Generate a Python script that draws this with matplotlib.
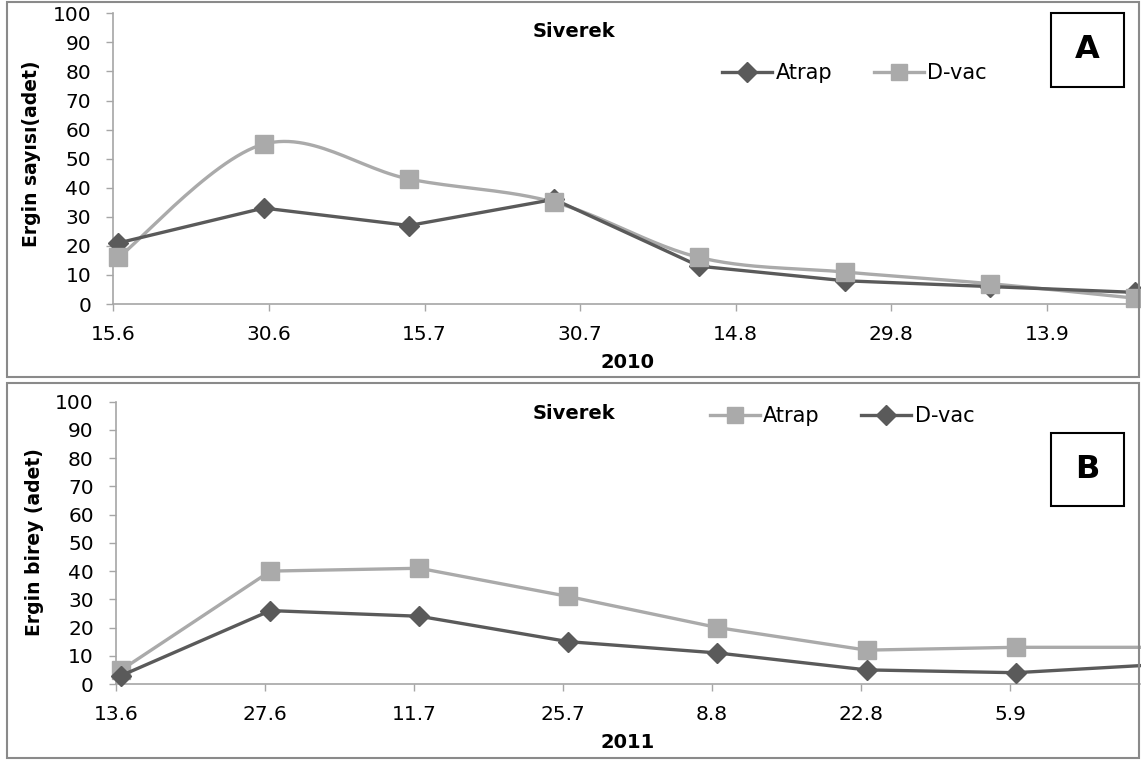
import numpy as np
import matplotlib.pyplot as plt
from matplotlib.patches import Rectangle

plt.rcParams['font.family'] = 'DejaVu Sans'

# panel A - 2010 (days counted from first tick date)
a_tick_labels = ['15.6', '30.6', '15.7', '30.7', '14.8', '29.8', '13.9']
a_tick_days = [0, 15, 30, 45, 60, 75, 90]
a_days = [0.5, 14.5, 28.5, 42.5, 56.5, 70.5, 84.5, 98.5]
a_atrap = [21, 33, 27, 36, 13, 8, 6, 4]
a_dvac = [16, 55, 43, 35, 16, 11, 7, 2]

# panel B - 2011
b_tick_labels = ['13.6', '27.6', '11.7', '25.7', '8.8', '22.8', '5.9']
b_tick_days = [0, 14, 28, 42, 56, 70, 84]
b_days = [0.5, 14.5, 28.5, 42.5, 56.5, 70.5, 84.5, 98.5]
b_atrap = [5, 40, 41, 31, 20, 12, 13, 13]
b_dvac = [3, 26, 24, 15, 11, 5, 4, 7]

DARK = '#5a5a5a'
LIGHT = '#aaaaaa'
AXC = '#a6a6a6'


def smooth(x, y, n=30):
    # excel-like smoothed line (catmull-rom as cubic bezier)
    x = np.asarray(x, float)
    y = np.asarray(y, float)
    px = np.concatenate([[x[0]], x, [x[-1]]])
    py = np.concatenate([[y[0]], y, [y[-1]]])
    t = np.linspace(0, 1, n)
    xs, ys = [], []
    for i in range(len(x) - 1):
        p0 = np.array([px[i], py[i]])
        p1 = np.array([px[i + 1], py[i + 1]])
        p2 = np.array([px[i + 2], py[i + 2]])
        p3 = np.array([px[i + 3], py[i + 3]])
        c1 = p1 + (p2 - p0) / 6
        c2 = p2 - (p3 - p1) / 6
        for tt in t:
            b = ((1 - tt) ** 3) * p1 + 3 * ((1 - tt) ** 2) * tt * c1 \
                + 3 * (1 - tt) * tt ** 2 * c2 + tt ** 3 * p2
            xs.append(b[0])
            ys.append(b[1])
    return xs, ys


def style_axes(ax, ticks, labels, xmax):
    ax.set_xlim(0, xmax)
    ax.set_ylim(0, 100)
    ax.set_yticks(range(0, 101, 10))
    ax.set_xticks(ticks)
    ax.set_xticklabels(labels)
    for s in ['top', 'right']:
        ax.spines[s].set_visible(False)
    for s in ['left', 'bottom']:
        ax.spines[s].set_color(AXC)
        ax.spines[s].set_linewidth(1.2)
    ax.tick_params(axis='both', colors=AXC, labelcolor='black', labelsize=14.5,
                   length=5, width=1.0, direction='out')
    ax.tick_params(axis='x', pad=10)
    ax.tick_params(axis='y', pad=11)


fig = plt.figure(figsize=(11.41, 7.60), dpi=100)

# ---------- panel A ----------
axA = fig.add_axes([0.0993, 0.6, 0.8998, 0.3825])
style_axes(axA, a_tick_days, a_tick_labels, 98.97)
sx, sy = smooth(a_days, a_dvac)
axA.plot(sx, sy, color=LIGHT, lw=2.4, clip_on=False, zorder=3)
axA.plot(a_days, a_dvac, ls='none', marker='s', ms=13, color=LIGHT, clip_on=False, zorder=4)
axA.plot(a_days, a_atrap, color=DARK, lw=2.4, marker='D', ms=10, clip_on=False, zorder=3)
hA1, = axA.plot([], [], color=DARK, lw=2.4, marker='D', ms=10)
hA2, = axA.plot([], [], color=LIGHT, lw=2.4, marker='s', ms=12)
axA.legend([hA1, hA2], ['Atrap', 'D-vac'], ncol=2, frameon=False, fontsize=15,
           loc='center', bbox_to_anchor=(0.722, 0.795), handlelength=2.4,
           handletextpad=0.15, columnspacing=2.0)
axA.text(0.449, 0.936, 'Siverek', transform=axA.transAxes, ha='center', va='center',
         fontsize=14, fontweight='bold')
fig.text(32 / 1141, 1 - 154 / 760, 'Ergin sayısı(adet)', rotation=90, ha='center',
         va='center', fontsize=13.5, fontweight='bold')
fig.text(628 / 1141, 1 - 362 / 760, '2010', ha='center', va='center',
         fontsize=14, fontweight='bold')

# ---------- panel B ----------
axB = fig.add_axes([0.1017, 0.1, 0.8975, 0.3714])
style_axes(axB, b_tick_days, b_tick_labels, 96.2)
axB.plot(b_days, b_atrap, color=LIGHT, lw=2.4, marker='s', ms=13, clip_on=False, zorder=3)
axB.plot(b_days, b_dvac, color=DARK, lw=2.4, marker='D', ms=10, clip_on=False, zorder=4)
hB1, = axB.plot([], [], color=LIGHT, lw=2.4, marker='s', ms=12)
hB2, = axB.plot([], [], color=DARK, lw=2.4, marker='D', ms=10)
axB.legend([hB1, hB2], ['Atrap', 'D-vac'], ncol=2, frameon=False, fontsize=15,
           loc='center', bbox_to_anchor=(0.709, 0.949), handlelength=2.4,
           handletextpad=0.15, columnspacing=2.0)
axB.text(0.447, 0.96, 'Siverek', transform=axB.transAxes, ha='center', va='center',
         fontsize=14, fontweight='bold')
fig.text(35 / 1141, 1 - 542 / 760, 'Ergin birey (adet)', rotation=90, ha='center',
         va='center', fontsize=13.5, fontweight='bold')
fig.text(628 / 1141, 1 - 743 / 760, '2011', ha='center', va='center',
         fontsize=14, fontweight='bold')

# panel frames
for (x0, y0, x1, y1) in [(7, 2, 1139, 377), (7, 383, 1139, 758)]:
    fig.add_artist(Rectangle((x0 / 1141, 1 - y1 / 760), (x1 - x0) / 1141, (y1 - y0) / 760,
                             transform=fig.transFigure, fill=False, ec='#8a8a8a',
                             lw=1.5, zorder=10))

# letter boxes
for (x0, y0, x1, y1, letter) in [(1051, 13, 1124, 87, 'A'), (1051, 433, 1124, 506, 'B')]:
    fig.add_artist(Rectangle((x0 / 1141, 1 - y1 / 760), (x1 - x0) / 1141, (y1 - y0) / 760,
                             transform=fig.transFigure, fill=False, ec='black',
                             lw=1.5, zorder=10))
    fig.text((x0 + x1) / 2 / 1141, 1 - (y0 + y1) / 2 / 760, letter, ha='center',
             va='center', fontsize=23, fontweight='bold')

fig.savefig('out.png', dpi=100)
